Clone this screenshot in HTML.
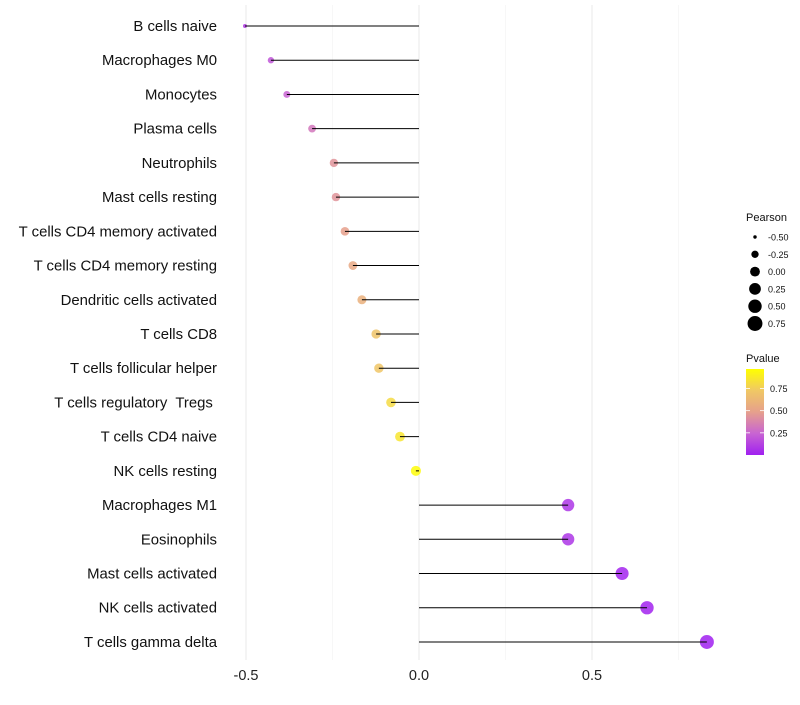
<!DOCTYPE html>
<html><head><meta charset="utf-8"><style>
body{margin:0;background:#fff;font-family:"Liberation Sans",sans-serif}
text{white-space:pre}
</style></head><body>
<svg id="chart" width="800" height="700" xmlns="http://www.w3.org/2000/svg">
<defs><linearGradient id="pg" x1="0" y1="1" x2="0" y2="0">
<stop offset="0" stop-color="#a020f0"/><stop offset="0.25" stop-color="#c864d2"/><stop offset="0.5" stop-color="#e6a08c"/><stop offset="0.75" stop-color="#f0c864"/><stop offset="1" stop-color="#ffff00"/>
</linearGradient></defs>
<g id="grid"></g><g id="marks"></g><g id="labels"></g><g id="legend"></g>
</svg>
<script>
const categories=["B cells naive","Macrophages M0","Monocytes","Plasma cells","Neutrophils","Mast cells resting","T cells CD4 memory activated","T cells CD4 memory resting","Dendritic cells activated","T cells CD8","T cells follicular helper","T cells regulatory  Tregs ","T cells CD4 naive","NK cells resting","Macrophages M1","Eosinophils","Mast cells activated","NK cells activated","T cells gamma delta"];
const pearson=[-0.503,-0.428,-0.382,-0.309,-0.246,-0.240,-0.214,-0.191,-0.165,-0.124,-0.116,-0.081,-0.055,-0.009,0.431,0.431,0.587,0.659,0.832];
const pvalues=[0.1,0.2,0.25,0.33,0.45,0.45,0.5,0.55,0.6,0.72,0.74,0.83,0.88,0.98,0.08,0.08,0.02,0.01,0.001];
const xTicks=[-0.5,0,0.5];
const xTickLabels=["-0.5","0.0","0.5"];
const sizeLegend=[-0.5,-0.25,0,0.25,0.5,0.75];
const pLegend=[0.25,0.5,0.75];
const NS="http://www.w3.org/2000/svg";
function X(v){return 419+v*346;}
function Y(i){return 26+i*34.22;}
function R(v){return 2+5*Math.sqrt(Math.max(0,(v+0.5))/1.33);}
function RL(v){return Math.sqrt(Math.max(1,3+42*(v+0.5)));}
const stops=[[0,[160,32,240]],[0.25,[200,100,210]],[0.5,[230,160,140]],[0.75,[240,200,100]],[1,[255,255,0]]];
function col(p){for(let k=1;k<stops.length;k++){if(p<=stops[k][0]){const a=stops[k-1],b=stops[k],t=(p-a[0])/(b[0]-a[0]);const c=a[1].map((u,j)=>Math.round(u+(b[1][j]-u)*t));return `rgb(${c})`;}}return "rgb(255,255,0)";}
function mk(tag,attrs,parent,text){const e=document.createElementNS(NS,tag);for(const k in attrs)e.setAttribute(k,attrs[k]);if(text!==undefined)e.textContent=text;parent.appendChild(e);return e;}
const grid=document.getElementById('grid'),marks=document.getElementById('marks'),labels=document.getElementById('labels'),legend=document.getElementById('legend');
[-0.25,0.25,0.75].forEach(v=>{const l=mk('line',{x1:X(v),x2:X(v),y1:5,y2:660,stroke:'#f2f2f2','stroke-width':0.6},grid);

});
xTicks.forEach((v,i)=>{const l=mk('line',{x1:X(v),x2:X(v),y1:5,y2:660,stroke:'#ebebeb','stroke-width':1.1},grid);


const t=mk('text',{x:X(v),y:680,'font-size':14.5,'text-anchor':'middle',fill:'#222'},labels,xTickLabels[i]);

});
categories.forEach((c,i)=>{const y=Y(i),v=pearson[i];
const t=mk('text',{x:217,y:y+5,'font-size':14.9,'text-anchor':'end',fill:'#111'},labels,c);


const d=mk('circle',{cx:X(v),cy:y,r:R(v),fill:col(pvalues[i]),'fill-opacity':0.85},marks);


const l=mk('line',{x1:X(0),x2:X(v),y1:y,y2:y,stroke:'#000','stroke-width':1},marks);

});
const lt=mk('text',{x:746,y:221,'font-size':11,fill:'#111'},legend,'Pearson');


sizeLegend.forEach((v,i)=>{const y=237+i*17.3;
const c=mk('circle',{cx:755,cy:y,r:RL(v),fill:'#000'},legend);


const t=mk('text',{x:768,y:y+3.5,'font-size':9,fill:'#111'},legend,v.toFixed(2));

});
const pt=mk('text',{x:746,y:362,'font-size':11,fill:'#111'},legend,'Pvalue');


const bar=mk('rect',{x:746,y:369,width:18,height:86,fill:'url(#pg)'},legend);


pLegend.forEach(p=>{const y=455-p/0.97*86;
mk('line',{x1:746,x2:750,y1:y,y2:y,stroke:'#fff','stroke-width':0.8},legend);
mk('line',{x1:760,x2:764,y1:y,y2:y,stroke:'#fff','stroke-width':0.8},legend);
const t=mk('text',{x:770,y:y+3.5,'font-size':9,fill:'#111'},legend,p.toFixed(2));

});
</script>
</body></html>
